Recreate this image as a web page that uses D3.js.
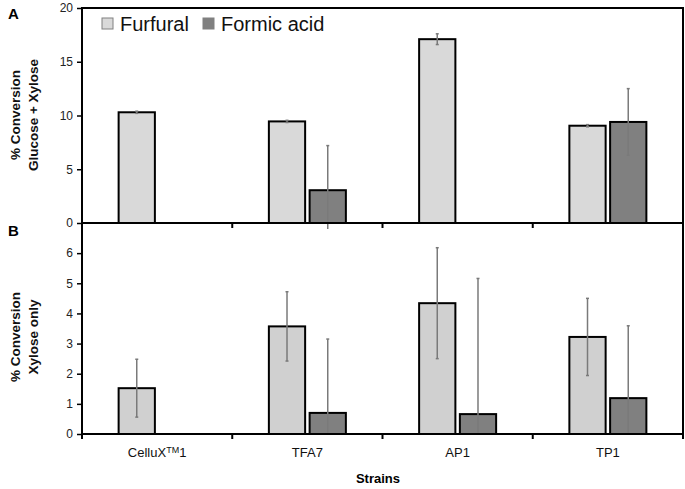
<!DOCTYPE html>
<html>
<head>
<meta charset="utf-8">
<script src="https://cdn.jsdelivr.net/npm/d3@7"></script>
<style>
  body { margin: 0; background: #fff; }
  svg { font-family: "Liberation Sans", Arial, sans-serif; }
</style>
</head>
<body>
<svg id="chart" width="685" height="489"></svg>
<script>
'use strict';

// data
const strains = ["CelluX1", "TFA7", "AP1", "TP1"];
const seriesNames = ["Furfural", "Formic acid"];
const furfuralTop = [10.3, 9.45, 17.1, 9.05];
const furfuralTopErr = [0.1, 0.1, 0.5, 0.1];
const formicTop = [null, 3.05, null, 9.4];
const formicTopErr = [null, 4.15, null, 3.1];
const furfuralBottom = [1.52, 3.57, 4.34, 3.22];
const furfuralBottomErr = [0.96, 1.15, 1.84, 1.28];
const formicBottom = [null, 0.7, 0.66, 1.19];
const formicBottomErr = [null, 2.45, 4.5, 2.4];
const topTicks = [0, 5, 10, 15, 20];
const bottomTicks = [0, 1, 2, 3, 4, 5, 6];

const svg = d3.select("#chart");
const left = 82, right = 683;

const x0 = d3.scaleBand().domain(strains).range([left, right]);
const pairW = 77;
const x1 = d3.scaleBand().domain(seriesNames).range([0, pairW]).paddingInner(0.11);
const barX = (strain, s) => x0(strain) + (x0.bandwidth() - pairW) / 2 + x1(s);

const panels = [
    {
        id: "top", top: 8, bottom: 223, domain: [0, 20], ticks: topTicks,
        fills: ["#d9d9d9", "#808080"],
        values: [furfuralTop, formicTop], errs: [furfuralTopErr, formicTopErr],
        letter: "A", letterY: 19, title: ["% Conversion", "Glucose + Xylose"], titleY: 115,
        clipBottom: 229
    },
    {
        id: "bottom", top: 223, bottom: 434, domain: [0, 7], ticks: bottomTicks,
        fills: ["#d0d0d0", "#808080"],
        values: [furfuralBottom, formicBottom], errs: [furfuralBottomErr, formicBottomErr],
        letter: "B", letterY: 236, title: ["% Conversion", "Xylose only"], titleY: 337,
        clipBottom: 434
    }
];

const defs = svg.append("defs");

panels.forEach(p => {
    const y = d3.scaleLinear().domain(p.domain).range([p.bottom, p.top]);
    const g = svg.append("g").attr("class", "panel-" + p.id);

    defs.append("clipPath").attr("id", "clip-" + p.id)
        .append("rect")
        .attr("x", left).attr("y", p.top)
        .attr("width", right - left).attr("height", p.clipBottom - p.top);

    // bars
    seriesNames.forEach((s, si) => {
        const rows = strains.map((st, i) => ({ st, v: p.values[si][i], e: p.errs[si][i] }))
            .filter(d => d.v !== null);
        g.selectAll(".bar-" + si)
            .data(rows)
            .enter()
            .append("rect")
            .attr("x", d => barX(d.st, s))
            .attr("y", d => y(d.v))
            .attr("width", x1.bandwidth())
            .attr("height", d => y(0) - y(d.v))
            .attr("fill", p.fills[si])
            .attr("stroke", "#000")
            .attr("stroke-width", 2);

        // error bars
        const eg = g.append("g").attr("clip-path", "url(#clip-" + p.id + ")");
        const ebars = eg.selectAll(".err")
            .data(rows)
            .enter()
            .append("g");
        const cx = d => barX(d.st, s) + x1.bandwidth() / 2;
        ebars.append("line")
            .attr("x1", cx).attr("x2", cx)
            .attr("y1", d => y(d.v + d.e)).attr("y2", d => y(d.v - d.e))
            .attr("stroke", "#7a7a7a").attr("stroke-width", 1.5);
        [1, -1].forEach(sign => {
            ebars.append("line")
                .attr("x1", d => cx(d) - 1.5).attr("x2", d => cx(d) + 1.5)
                .attr("y1", d => y(d.v + sign * d.e)).attr("y2", d => y(d.v + sign * d.e))
                .attr("stroke", "#7a7a7a").attr("stroke-width", 1.5);
        });
    });

    // y axis
    const yAxis = d3.axisLeft(y).tickValues(p.ticks).tickFormat(d3.format("d")).tickSize(5).tickPadding(4);
    const ya = g.append("g")
        .attr("transform", "translate(" + left + ",0)")
        .call(yAxis);
    ya.select(".domain").remove();
    ya.selectAll(".tick line").attr("stroke", "#000").attr("stroke-width", 1.5);
    ya.selectAll(".tick text")
        .attr("font-size", 12)
        .attr("fill", "#222")
        .style("font-family", "'Liberation Sans', Arial, sans-serif");

    // x ticks at band boundaries
    const bounds = strains.map(st => x0(st)).concat([right]);
    g.selectAll(".xtick")
        .data(bounds)
        .enter()
        .append("line")
        .attr("x1", d => d).attr("x2", d => d)
        .attr("y1", p.bottom).attr("y2", p.bottom + 5)
        .attr("stroke", "#000").attr("stroke-width", 2);

    // frame
    g.append("path")
        .attr("d", "M" + left + "," + p.bottom + "V" + p.top + "H" + right + "V" + p.bottom + "H" + left + "Z")
        .attr("fill", "none")
        .attr("stroke", "#000")
        .attr("stroke-width", 2);

    // panel letter
    svg.append("text")
        .attr("x", 8).attr("y", p.letterY)
        .attr("font-size", 15).attr("font-weight", "bold")
        .text(p.letter);

    // y title
    const tt = svg.append("text")
        .attr("transform", "translate(20," + p.titleY + ") rotate(-90)")
        .attr("text-anchor", "middle")
        .attr("font-size", 13.5).attr("font-weight", "bold")
        .attr("fill", "#111");
    tt.append("tspan").attr("x", 0).attr("dy", 0).text(p.title[0]);
    tt.append("tspan").attr("x", 0).attr("dy", 18).text(p.title[1]);
});

// x labels
const labels = svg.append("g");
strains.forEach(st => {
    const t = labels.append("text")
        .attr("x", x0(st) + x0.bandwidth() / 2)
        .attr("y", 457)
        .attr("text-anchor", "middle")
        .attr("font-size", 13)
        .attr("fill", "#111");
    if (st === "CelluX1") {
        t.append("tspan").text("CelluX");
        t.append("tspan").attr("font-size", 9).attr("dy", -4).text("TM");
        t.append("tspan").attr("dy", 4).text("1");
    } else {
        t.text(st);
    }
});

svg.append("text")
    .attr("x", 378).attr("y", 483)
    .attr("text-anchor", "middle")
    .attr("font-size", 13).attr("font-weight", "bold")
    .text("Strains");

// legend
const legendX = [102, 203];
const legendFill = ["#d9d9d9", "#808080"];
seriesNames.forEach((s, i) => {
    svg.append("rect")
        .attr("x", legendX[i]).attr("y", 18)
        .attr("width", 11).attr("height", 11)
        .attr("fill", legendFill[i])
        .attr("stroke", "#808080").attr("stroke-width", 1);
    svg.append("text")
        .attr("x", legendX[i] + 18).attr("y", 31)
        .attr("font-size", 20)
        .attr("fill", "#111")
        .text(s);
});
</script>
</body>
</html>
